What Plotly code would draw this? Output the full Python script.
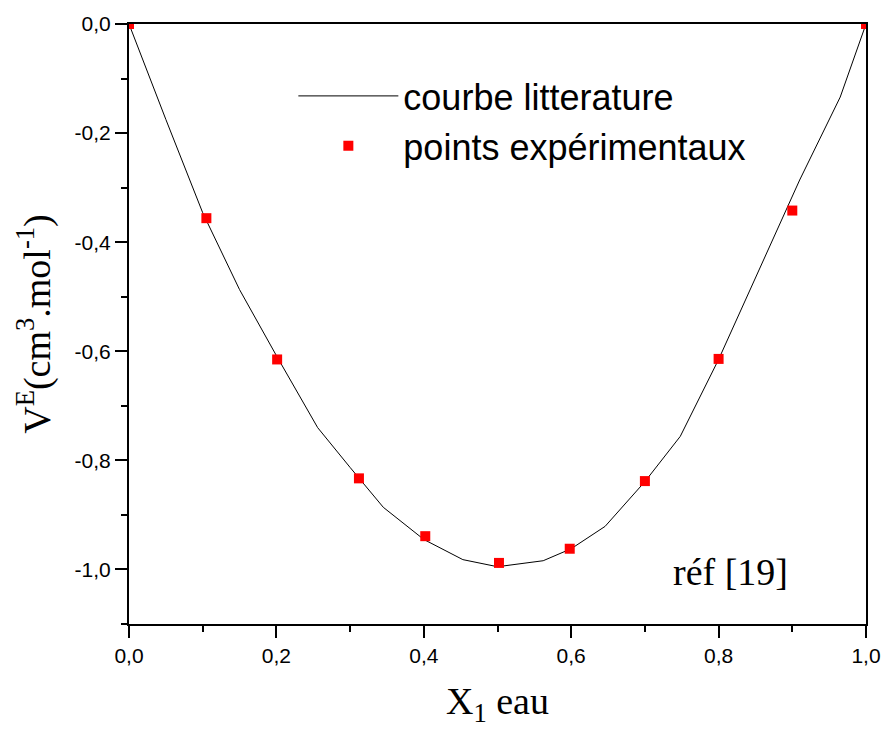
import plotly.graph_objects as go

# Literature curve
x_lit = [0, 0.05, 0.10, 0.15, 0.20, 0.256, 0.30, 0.345, 0.40, 0.453, 0.50,
         0.562, 0.60, 0.646, 0.70, 0.748, 0.80, 0.847, 0.91, 0.965, 1.0]
y_lit = [0, -0.175, -0.346, -0.487, -0.608, -0.740, -0.813, -0.886, -0.945, -0.982, -0.995,
         -0.984, -0.962, -0.921, -0.839, -0.756, -0.615, -0.474, -0.286, -0.134, 0]

# Experimental points
x_exp = [0, 0.105, 0.201, 0.312, 0.402, 0.502, 0.598, 0.700, 0.800, 0.900, 1.0]
y_exp = [0, -0.356, -0.615, -0.833, -0.939, -0.988, -0.962, -0.838, -0.614, -0.342, 0]

x_tickvals = [0, 0.2, 0.4, 0.6, 0.8, 1.0]
x_ticktext = ["0,0", "0,2", "0,4", "0,6", "0,8", "1,0"]
y_tickvals = [0, -0.2, -0.4, -0.6, -0.8, -1.0]
y_ticktext = ["0,0", "-0,2", "-0,4", "-0,6", "-0,8", "-1,0"]

fig = go.Figure()
fig.add_trace(go.Scatter(x=x_lit, y=y_lit, mode="lines", name="courbe litterature",
                         line=dict(color="black", width=1)))
fig.add_trace(go.Scatter(x=x_exp, y=y_exp, mode="markers", name="points expérimentaux",
                         marker=dict(symbol="square", size=10, color="#ff0000")))

axis_common = dict(showline=True, linecolor="black", linewidth=2, mirror=True,
                   ticks="outside", ticklen=12, tickwidth=2, tickcolor="black",
                   showgrid=False, zeroline=False, automargin=False,
                   tickfont=dict(family="Liberation Sans, Arial", size=21, color="black"))

fig.update_xaxes(range=[0, 1.0], tickvals=x_tickvals, ticktext=x_ticktext,
                 minor=dict(tick0=0, dtick=0.1, ticks="outside", ticklen=6, tickwidth=2, tickcolor="black"),
                 title=dict(text="X<sub>1</sub> eau", standoff=21,
                            font=dict(family="Liberation Serif, Times New Roman", size=38, color="black")),
                 **axis_common)
fig.update_yaxes(range=[-1.1, 0], tickvals=y_tickvals, ticktext=y_ticktext,
                 minor=dict(tick0=0, dtick=0.1, ticks="outside", ticklen=6, tickwidth=2, tickcolor="black"),
                 title=dict(text="V<sup>E</sup>(cm<sup>3</sup>.mol<sup>-1</sup>)", standoff=12,
                            font=dict(family="Liberation Serif, Times New Roman", size=38, color="black")),
                 **axis_common)

fig.add_annotation(x=0.816, y=-1.005, xref="x", yref="y", text="réf [19]", showarrow=False,
                   font=dict(family="Liberation Serif, Times New Roman", size=38, color="black"))

fig.update_layout(
    width=885, height=729,
    margin=dict(l=129, r=19, t=24, b=105),
    plot_bgcolor="white", paper_bgcolor="white",
    showlegend=True,
    legend=dict(x=0.223, y=0.93, xanchor="left", yanchor="top",
                bgcolor="rgba(0,0,0,0)", borderwidth=0, itemwidth=100,
                font=dict(family="Liberation Sans, Arial", size=36, color="black")),
)

fig.write_html("out.html")
